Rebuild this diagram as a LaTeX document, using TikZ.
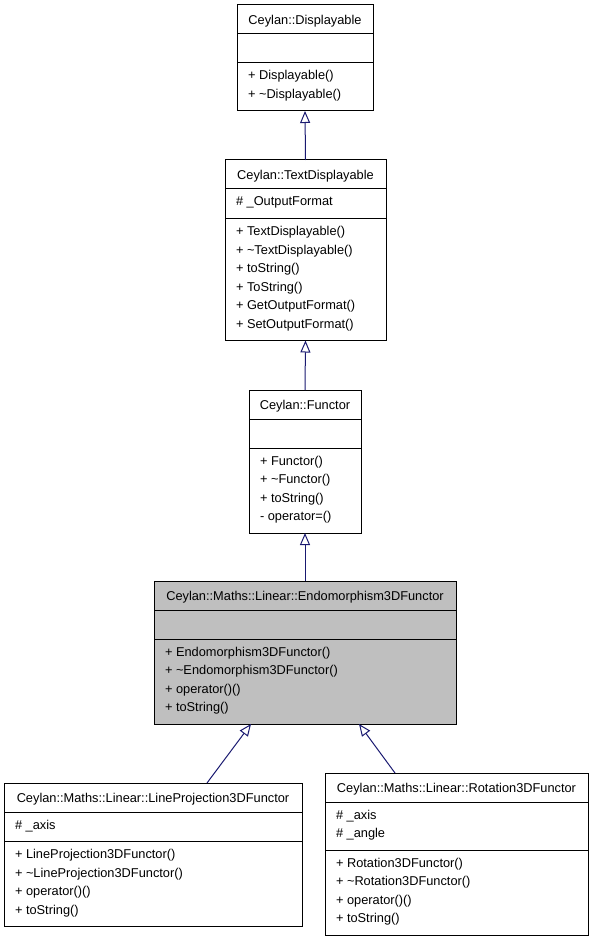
\documentclass[tikz,border=0pt]{standalone}
\usepackage{fontspec}
\setmainfont{Liberation Sans}
\usetikzlibrary{arrows.meta}
\definecolor{edgeblue}{HTML}{191970}
\definecolor{boxgray}{HTML}{BFBFBF}
\begin{document}
\begin{tikzpicture}[x=1pt, y=-1pt, every node/.style={font=\fontsize{12.8}{18.5}\selectfont,inner sep=0pt,outer sep=0pt},
  cls/.style={draw,line width=1pt,anchor=north west},
  ttl/.style={anchor=base},
  mem/.style={anchor=base west},
  inh/.style={draw=edgeblue,line width=1pt,-{Triangle[open,length=12pt,width=10pt]}}]
  \useasboundingbox (0,0) rectangle (595,941);
  % class boxes
  \node [cls,minimum width=136,minimum height=106] (disp) at (237,5) {};
  \node [cls,minimum width=161,minimum height=180.5] (tdisp) at (225,160) {};
  \node [cls,minimum width=112,minimum height=143] (func) at (249,390) {};
  \node [cls,fill=boxgray,minimum width=302,minimum height=143] (endo) at (154,581) {};
  \node [cls,minimum width=298,minimum height=143.5] (lproj) at (4,783) {};
  \node [cls,minimum width=263,minimum height=162] (rot) at (325,773) {};
  % compartments
  \draw [line width=1pt] (237,34) -- (373,34);
  \draw [line width=1pt] (237,63) -- (373,63);
  \draw [line width=1pt] (225,189) -- (386,189);
  \draw [line width=1pt] (225,218.5) -- (386,218.5);
  \draw [line width=1pt] (249,419) -- (361,419);
  \draw [line width=1pt] (249,448) -- (361,448);
  \draw [line width=1pt] (154,610) -- (456,610);
  \draw [line width=1pt] (154,639) -- (456,639);
  \draw [line width=1pt] (4,812) -- (302,812);
  \draw [line width=1pt] (4,841.5) -- (302,841.5);
  \draw [line width=1pt] (325,802) -- (588,802);
  \draw [line width=1pt] (325,850) -- (588,850);
  % titles
  \node [ttl] (dispT) at (305,24.5) {Ceylan::Displayable};
  \node [ttl] (tdispT) at (305.5,179.5) {Ceylan::TextDisplayable};
  \node [ttl] (funcT) at (305,409.5) {Ceylan::Functor};
  \node [ttl] (endoT) at (305,600.5) {Ceylan::Maths::Linear::Endomorphism3DFunctor};
  \node [ttl] (lprojT) at (153,802.5) {Ceylan::Maths::Linear::LineProjection3DFunctor};
  \node [ttl] (rotT) at (456.5,792.5) {Ceylan::Maths::Linear::Rotation3DFunctor};
  % attributes
  \node [mem] (tdispA) at (236,206) {\# \_OutputFormat};
  \node [mem] (lprojA0) at (15,829) {\# \_axis};
  \node [mem] (rotA0) at (336,819) {\# \_axis};
  \node [mem] (rotA1) at (336,837.5) {\# \_angle};
  % operations
  \foreach \m [count=\i from 0] in {+ Displayable(),+ \textasciitilde Displayable()}
    \node [mem] (dispM\i) at (248,{80+18.5*\i}) {\m};
  \foreach \m [count=\i from 0] in {+ TextDisplayable(),+ \textasciitilde TextDisplayable(),+ toString(),+ ToString(),+ GetOutputFormat(),+ SetOutputFormat()}
    \node [mem] (tdispM\i) at (236,{235.5+18.5*\i}) {\m};
  \foreach \m [count=\i from 0] in {+ Functor(),+ \textasciitilde Functor(),+ toString(),- operator=()}
    \node [mem] (funcM\i) at (260,{465+18.5*\i}) {\m};
  \foreach \m [count=\i from 0] in {+ Endomorphism3DFunctor(),+ \textasciitilde Endomorphism3DFunctor(),+ operator()(),+ toString()}
    \node [mem] (endoM\i) at (165,{656+18.5*\i}) {\m};
  \foreach \m [count=\i from 0] in {+ LineProjection3DFunctor(),+ \textasciitilde LineProjection3DFunctor(),+ operator()(),+ toString()}
    \node [mem] (lprojM\i) at (15,{858.5+18.5*\i}) {\m};
  \foreach \m [count=\i from 0] in {+ Rotation3DFunctor(),+ \textasciitilde Rotation3DFunctor(),+ operator()(),+ toString()}
    \node [mem] (rotM\i) at (336,{867+18.5*\i}) {\m};
  % inheritance
  \draw [inh] (tdisp.north) -- (disp.south);
  \draw [inh] (func.north) -- (tdisp.south);
  \draw [inh] (endo.north) -- (func.south);
  \draw [inh] ([xshift=203]lproj.north west) -- ([xshift=97]endo.south west);
  \draw [inh] ([xshift=70]rot.north west) -- ([xshift=205]endo.south west);
\end{tikzpicture}
\end{document}
